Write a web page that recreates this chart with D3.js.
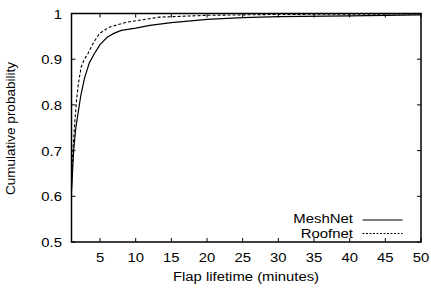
<!DOCTYPE html>
<html><head><meta charset="utf-8">
<script src="https://cdn.jsdelivr.net/npm/d3@7"></script>
<style>body{margin:0;background:#fff}svg{display:block}text{font-family:"Liberation Sans",Arial,Helvetica,sans-serif;fill:#000}</style>
</head><body><svg id="c" width="431" height="290"></svg>
<script>
const meshX = [1, 1.3, 1.6, 1.9, 2.3, 2.8, 3.5, 4.2, 5, 6, 7, 8, 10, 12, 15, 20, 25, 30, 40, 50];
const meshY = [0.61, 0.70, 0.75, 0.78, 0.82, 0.857, 0.892, 0.912, 0.932, 0.948, 0.957, 0.963, 0.968, 0.974, 0.980, 0.987, 0.991, 0.993, 0.995, 0.997];
const roofX = [1, 1.2, 1.45, 1.7, 2.0, 2.36, 2.8, 3.3, 4.0, 4.9, 6.3, 8.7, 13.3, 20, 30, 50];
const roofY = [0.62, 0.70, 0.76, 0.81, 0.85, 0.883, 0.90, 0.912, 0.934, 0.956, 0.970, 0.981, 0.992, 0.996, 0.998, 0.999];
const xTicks = [5, 10, 15, 20, 25, 30, 35, 40, 45, 50];
const yTicks = [0.5, 0.6, 0.7, 0.8, 0.9, 1];
const yTickLabels = ["0.5", "0.6", "0.7", "0.8", "0.9", "1"];
const seriesNames = ["MeshNet", "Roofnet"];

const L = 71.5, R = 421, T = 13.5, B = 242;
const svg = d3.select("#c");
const x = d3.scaleLinear().domain([1, 50]).range([L, R]);
const y = d3.scaleLinear().domain([0.5, 1]).range([B, T]);
const tl = 4;
const SX = 1.1;

function label(px, py, txt, anchor, size, sx) {
  return svg.append("text")
    .attr("transform", `translate(${px},${py}) scale(${sx},1)`)
    .attr("text-anchor", anchor).attr("font-size", size).text(txt);
}

// ticks
const g = svg.append("g").attr("stroke", "#000").attr("stroke-width", 1);
xTicks.forEach(v => {
  g.append("line").attr("x1", x(v)).attr("x2", x(v)).attr("y1", B).attr("y2", B - tl);
  g.append("line").attr("x1", x(v)).attr("x2", x(v)).attr("y1", T).attr("y2", T + tl);
});
yTicks.forEach(v => {
  g.append("line").attr("x1", L).attr("x2", L + tl).attr("y1", y(v)).attr("y2", y(v));
  g.append("line").attr("x1", R).attr("x2", R - tl).attr("y1", y(v)).attr("y2", y(v));
});

// tick labels
xTicks.forEach(v => label(x(v), 262, v, "middle", 13.5, SX));
yTicks.forEach((v, i) => label(62, y(v) + 5, yTickLabels[i], "end", 13.5, SX));

// axis titles
label(246, 281, "Flap lifetime (minutes)", "middle", 13.5, SX);
svg.append("text").attr("transform", "translate(15,128.5) rotate(-90)").attr("text-anchor", "middle")
  .attr("font-size", 13.5).text("Cumulative probability");

// curves
const line = d3.line().x(d => x(d[0])).y(d => y(d[1]));
const meshData = meshX.map((v, i) => [v, meshY[i]]);
const roofData = roofX.map((v, i) => [v, roofY[i]]);
svg.append("path").datum(meshData).attr("d", line).attr("fill", "none")
  .attr("stroke", "#000").attr("stroke-width", 1.2);
svg.append("path").datum(roofData).attr("d", line).attr("fill", "none")
  .attr("stroke", "#000").attr("stroke-width", 1.1).attr("stroke-dasharray", "3,2");

// frame
svg.append("rect").attr("x", L).attr("y", T).attr("width", R - L).attr("height", B - T)
  .attr("fill", "none").attr("stroke", "#000").attr("stroke-width", 1.5);

// legend
label(353, 223, seriesNames[0], "end", 13, 1.15);
label(353, 238, seriesNames[1], "end", 13, 1.15);
svg.append("line").attr("x1", 362.5).attr("x2", 402.5).attr("y1", 220).attr("y2", 220)
  .attr("stroke", "#000").attr("stroke-width", 1.2);
svg.append("line").attr("x1", 362.5).attr("x2", 402.5).attr("y1", 233.5).attr("y2", 233.5)
  .attr("stroke", "#000").attr("stroke-width", 1.1).attr("stroke-dasharray", "2,1.5");
</script></body></html>
